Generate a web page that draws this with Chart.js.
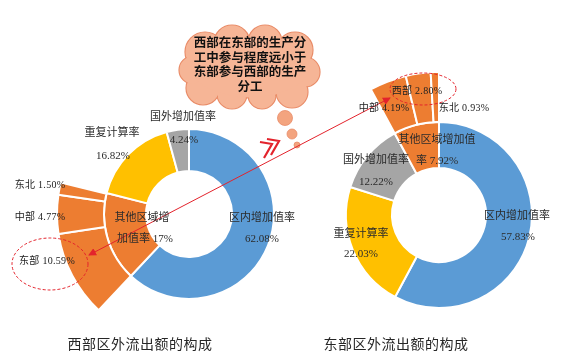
<!DOCTYPE html>
<html><head><meta charset="utf-8">
<script src="https://cdn.jsdelivr.net/npm/chart.js@4"></script>
<style>
html,body{margin:0;padding:0;background:#fff;}
#wrap{position:relative;width:574px;height:363px;overflow:hidden;font-family:"Liberation Serif","Noto Sans CJK SC",serif;}
canvas{position:absolute;}
svg{position:absolute;left:0;top:0;}
.lb{position:absolute;transform:translate(-50%,-50%);white-space:nowrap;font-size:11px;color:#2b2b2b;line-height:1;}
.sub{font-size:10px;color:#222;letter-spacing:0.3px;}
.ttl{position:absolute;transform:translate(-50%,-50%);white-space:nowrap;font-family:"Noto Sans CJK SC",sans-serif;font-size:14px;color:#262626;letter-spacing:0.5px;}
.cloud{position:absolute;left:250px;top:64px;transform:translate(-50%,-50%);text-align:center;font-family:"Noto Sans CJK SC",sans-serif;font-weight:bold;font-size:12.5px;line-height:14.5px;color:#111;white-space:nowrap;}
</style></head>
<body><div id="wrap">
<svg id="ov" width="574" height="363"></svg>
<canvas id="cW" width="300" height="300" style="left:39px;top:64px"></canvas>
<canvas id="cE" width="310" height="310" style="left:284px;top:60px"></canvas>
</div>
<script>
// ---- data ----
const categories = ['区内增加值率','其他区域增加值率','重复计算率','国外增加值率'];
const westValues = [62.08, 17, 16.82, 4.24];
const westSubCats = ['东部','中部','东北'];
const westSubValues = [10.59, 4.77, 1.50];
const eastCategories = ['区内增加值率','重复计算率','国外增加值率','其他区域增加值率'];
const eastValues = [57.83, 22.03, 12.22, 7.92];
const eastSubCats = ['中部','西部','东北'];
const eastSubValues = [4.19, 2.80, 0.93];
const titles = ['西部区外流出额的构成','东部区外流出额的构成'];
const cloudText = ['西部在东部的生产分','工中参与程度远小于','东部参与西部的生产','分工'];

const BLUE='#5B9BD5', ORANGE='#ED7D31', YELLOW='#FFC000', GRAY='#A5A5A5', NONE='rgba(0,0,0,0)';
const sum = a => a.reduce((s,v)=>s+v,0);

function donut(id, inner, innerColors, outer, outerColors, radius, hole, wOuter, wInner){
  new Chart(document.getElementById(id), {
    type:'doughnut',
    data:{labels:outer.map((_,i)=>i), datasets:[
      {data:outer, backgroundColor:outerColors, borderColor:'#fff',
       borderWidth:outerColors.map(c=>c===NONE?0:2), weight:wOuter},
      {data:inner, backgroundColor:innerColors, borderColor:'#fff', borderWidth:2, weight:wInner}
    ]},
    options:{responsive:false, animation:false, devicePixelRatio:1,
      radius:radius, cutout:(hole/radius*100)+'%',
      layout:{padding:0},
      plugins:{legend:{display:false}, tooltip:{enabled:false}},
      events:[]}
  });
}

// West: inner order blue, orange, yellow, gray; outer ring splits orange
const westOuter = [westValues[0], ...westSubValues, westValues[1]-sum(westSubValues), westValues[2]+westValues[3]];
donut('cW', westValues, [BLUE,ORANGE,YELLOW,GRAY], westOuter, [NONE,ORANGE,ORANGE,ORANGE,NONE,NONE], 132, 43, 47, 42);

// East: inner order blue, yellow, gray, orange; outer ring splits orange
const eastOuter = [eastValues[0]+eastValues[1]+eastValues[2], ...eastSubValues];
donut('cE', eastValues, [BLUE,YELLOW,GRAY,ORANGE], eastOuter, [NONE,ORANGE,ORANGE,ORANGE], 143, 47, 50, 46);

// ---- decorations (svg, under charts) ----
const NS='http://www.w3.org/2000/svg', svg=document.getElementById('ov');
function el(tag, attrs, parent){const e=document.createElementNS(NS,tag); for(const k in attrs) e.setAttribute(k,attrs[k]); (parent||svg).appendChild(e); return e;}
const bumps=[[205,52,20],[232,43,18],[265,42,17],[295,50,18],[305,72,15],[292,92,16],[262,95,14],[232,94,15],[203,88,17],[193,70,14]];
bumps.forEach(b=>el('circle',{cx:b[0],cy:b[1],r:b[2],fill:'#F6B596',stroke:'#E98C68','stroke-width':1.2}));
el('ellipse',{cx:250,cy:67,rx:60,ry:31,fill:'#F6B596',stroke:'#E98C68','stroke-width':1.2});
bumps.forEach(b=>el('circle',{cx:b[0],cy:b[1],r:b[2]-0.8,fill:'#F6B596'}));
el('ellipse',{cx:250,cy:67,rx:59,ry:30,fill:'#F6B596'});
[[285,118,7.5],[292,134,5],[297,145,3]].forEach(b=>el('circle',{cx:b[0],cy:b[1],r:b[2],fill:'#F3A47F',stroke:'#E98C68','stroke-width':0.8}));

// ---- overlay svg (on top of charts) ----
const wrap = document.getElementById('wrap');
const top2=document.createElementNS(NS,'svg'); top2.setAttribute('width','574'); top2.setAttribute('height','363');
wrap.appendChild(top2);
top2.innerHTML='<defs><marker id="ah2" markerWidth="8" markerHeight="8" refX="7" refY="4" orient="auto-start-reverse" markerUnits="userSpaceOnUse"><path d="M0,0 L8,4 L0,8 Z" fill="#E3232C"/></marker></defs>';
el('line',{x1:390,y1:98,x2:89,y2:255,stroke:'#E3232C','stroke-width':1,'marker-start':'url(#ah2)','marker-end':'url(#ah2)'},top2);
el('ellipse',{cx:50,cy:264,rx:38,ry:26,fill:'none',stroke:'#E3232C','stroke-width':1,'stroke-dasharray':'3,2'},top2);
el('ellipse',{cx:423,cy:89,rx:33,ry:16,fill:'none',stroke:'#E3232C','stroke-width':1,'stroke-dasharray':'3,2'},top2);
el('polyline',{points:'260,142 272,144 264,158',fill:'none',stroke:'#E3232C','stroke-width':2.2},top2);
el('polyline',{points:'267,139 279,141 271,155',fill:'none',stroke:'#E3232C','stroke-width':2.2},top2);

// ---- text labels ----
function lab(txt, x, y, cls){
  const d=document.createElement('div'); d.className=cls||'lb'; d.textContent=txt;
  d.style.left=x+'px'; d.style.top=y+'px'; wrap.appendChild(d);
}
const pct = v => v.toFixed(2)+'%';
// west
lab(categories[3],183,116); lab(pct(westValues[3]),184,139);
lab(categories[2],112,132); lab(pct(westValues[2]),113,155);
lab('其他区域增',142,217); lab('加值率 '+westValues[1]+'%',145,238);
lab(categories[0],262,217); lab(pct(westValues[0]),262,238);
lab(westSubCats[2]+' '+pct(westSubValues[2]),40,185,'lb sub');
lab(westSubCats[1]+' '+pct(westSubValues[1]),40,217,'lb sub');
lab(westSubCats[0]+' '+pct(westSubValues[0]),47,261,'lb sub');
// east
lab(eastSubCats[1]+' '+pct(eastSubValues[1]),417,91,'lb sub');
lab(eastSubCats[0]+' '+pct(eastSubValues[0]),384,108,'lb sub');
lab(eastSubCats[2]+' '+pct(eastSubValues[2]),464,108,'lb sub');
lab('其他区域增加值',437,139); lab('率 '+pct(eastValues[3]),437,160);
lab(eastCategories[2],376,159); lab(pct(eastValues[2]),376,181);
lab(eastCategories[1],361,233); lab(pct(eastValues[1]),361,253);
lab(eastCategories[0],517,215); lab(pct(eastValues[0]),518,236);
// titles
lab(titles[0],140,343,'ttl'); lab(titles[1],396,343,'ttl');
// cloud text
const ct=document.createElement('div'); ct.className='cloud'; ct.innerHTML=cloudText.join('<br>'); wrap.appendChild(ct);
</script>
</body></html>
